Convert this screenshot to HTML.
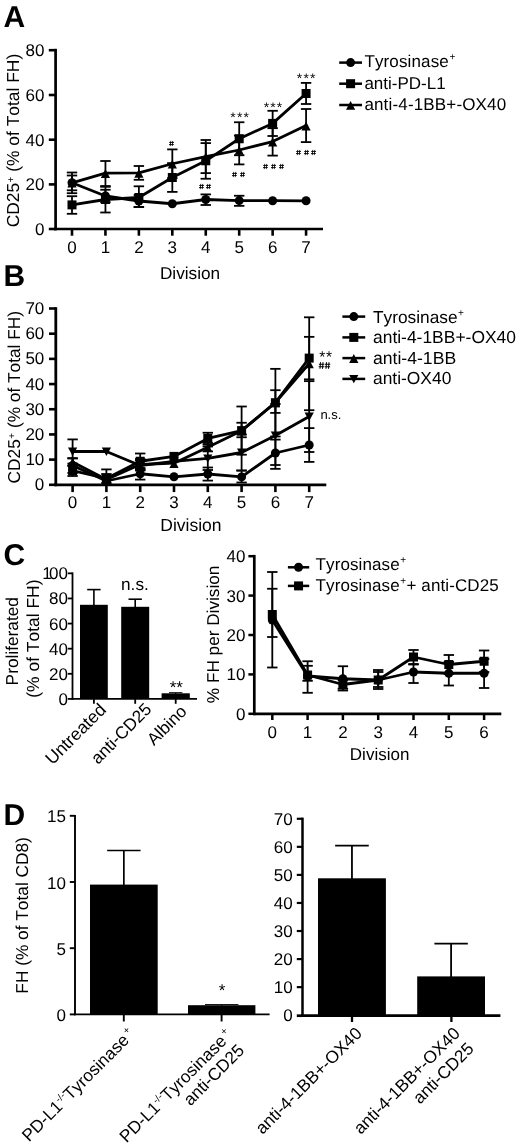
<!DOCTYPE html>
<html lang="en">
<head>
<meta charset="utf-8">
<title>Figure</title>
<style>
html,body{margin:0;padding:0;background:#fff;}
body{width:520px;height:1147px;overflow:hidden;font-family:"Liberation Sans",sans-serif;}
svg{display:block;font-family:"Liberation Sans",sans-serif;font-kerning:none;font-variant-ligatures:none;}
</style>
</head>
<body>
<svg width="520" height="1147" viewBox="0 0 520 1147" fill="#000000" stroke="#000000" text-rendering="geometricPrecision">
<rect x="0" y="0" width="520" height="1147" fill="#ffffff" stroke="none"/>
<defs><filter id="soft" filterUnits="userSpaceOnUse" x="0" y="0" width="520" height="1147" color-interpolation-filters="sRGB"><feGaussianBlur stdDeviation="0.42"/></filter><filter id="soft2" filterUnits="userSpaceOnUse" x="0" y="0" width="520" height="1147" color-interpolation-filters="sRGB"><feGaussianBlur stdDeviation="0.2"/></filter></defs>
<g stroke="none" filter="url(#soft)">
<text x="3.60" y="27.20" font-size="30" text-anchor="start" font-weight="bold">A</text>
<line stroke="#000000" x1="55.60" y1="48.80" x2="55.60" y2="230.35" stroke-width="2.7" stroke-linecap="butt"/>
<line stroke="#000000" x1="54.25" y1="229.00" x2="323.00" y2="229.00" stroke-width="2.7" stroke-linecap="butt"/>
<line stroke="#000000" x1="48.80" y1="50.20" x2="55.60" y2="50.20" stroke-width="2.6" stroke-linecap="butt"/>
<text x="44.40" y="56.20" font-size="17" text-anchor="end" >80</text>
<line stroke="#000000" x1="48.80" y1="95.00" x2="55.60" y2="95.00" stroke-width="2.6" stroke-linecap="butt"/>
<text x="44.40" y="101.00" font-size="17" text-anchor="end" >60</text>
<line stroke="#000000" x1="48.80" y1="139.70" x2="55.60" y2="139.70" stroke-width="2.6" stroke-linecap="butt"/>
<text x="44.40" y="145.70" font-size="17" text-anchor="end" >40</text>
<line stroke="#000000" x1="48.80" y1="184.40" x2="55.60" y2="184.40" stroke-width="2.6" stroke-linecap="butt"/>
<text x="44.40" y="190.40" font-size="17" text-anchor="end" >20</text>
<line stroke="#000000" x1="48.80" y1="229.00" x2="55.60" y2="229.00" stroke-width="2.6" stroke-linecap="butt"/>
<text x="44.40" y="235.00" font-size="17" text-anchor="end" >0</text>
<line stroke="#000000" x1="72.00" y1="229.00" x2="72.00" y2="235.70" stroke-width="2.6" stroke-linecap="butt"/>
<text x="72.00" y="253.00" font-size="17" text-anchor="middle" >0</text>
<line stroke="#000000" x1="105.44" y1="229.00" x2="105.44" y2="235.70" stroke-width="2.6" stroke-linecap="butt"/>
<text x="105.44" y="253.00" font-size="17" text-anchor="middle" >1</text>
<line stroke="#000000" x1="138.88" y1="229.00" x2="138.88" y2="235.70" stroke-width="2.6" stroke-linecap="butt"/>
<text x="138.88" y="253.00" font-size="17" text-anchor="middle" >2</text>
<line stroke="#000000" x1="172.32" y1="229.00" x2="172.32" y2="235.70" stroke-width="2.6" stroke-linecap="butt"/>
<text x="172.32" y="253.00" font-size="17" text-anchor="middle" >3</text>
<line stroke="#000000" x1="205.76" y1="229.00" x2="205.76" y2="235.70" stroke-width="2.6" stroke-linecap="butt"/>
<text x="205.76" y="253.00" font-size="17" text-anchor="middle" >4</text>
<line stroke="#000000" x1="239.20" y1="229.00" x2="239.20" y2="235.70" stroke-width="2.6" stroke-linecap="butt"/>
<text x="239.20" y="253.00" font-size="17" text-anchor="middle" >5</text>
<line stroke="#000000" x1="272.64" y1="229.00" x2="272.64" y2="235.70" stroke-width="2.6" stroke-linecap="butt"/>
<text x="272.64" y="253.00" font-size="17" text-anchor="middle" >6</text>
<line stroke="#000000" x1="306.08" y1="229.00" x2="306.08" y2="235.70" stroke-width="2.6" stroke-linecap="butt"/>
<text x="306.08" y="253.00" font-size="17" text-anchor="middle" >7</text>
<text x="190.00" y="279.30" font-size="17.2" text-anchor="middle" >Division</text>
<text transform="translate(19.40,140.60) rotate(-90)" font-size="17.4" text-anchor="middle" >CD25<tspan font-size="10" dy="-5" dx="0.5">+</tspan><tspan dy="5" dx="0"> (% of Total FH)</tspan></text>
<line stroke="#000000" x1="72.00" y1="175.50" x2="72.00" y2="190.30" stroke-width="1.8" stroke-linecap="butt"/>
<line stroke="#000000" x1="66.80" y1="175.50" x2="77.20" y2="175.50" stroke-width="1.8" stroke-linecap="butt"/>
<line stroke="#000000" x1="66.80" y1="190.30" x2="77.20" y2="190.30" stroke-width="1.8" stroke-linecap="butt"/>
<line stroke="#000000" x1="105.44" y1="189.75" x2="105.44" y2="202.25" stroke-width="1.8" stroke-linecap="butt"/>
<line stroke="#000000" x1="100.24" y1="189.75" x2="110.64" y2="189.75" stroke-width="1.8" stroke-linecap="butt"/>
<line stroke="#000000" x1="100.24" y1="202.25" x2="110.64" y2="202.25" stroke-width="1.8" stroke-linecap="butt"/>
<line stroke="#000000" x1="138.88" y1="195.10" x2="138.88" y2="206.90" stroke-width="1.8" stroke-linecap="butt"/>
<line stroke="#000000" x1="133.68" y1="195.10" x2="144.08" y2="195.10" stroke-width="1.8" stroke-linecap="butt"/>
<line stroke="#000000" x1="133.68" y1="206.90" x2="144.08" y2="206.90" stroke-width="1.8" stroke-linecap="butt"/>
<line stroke="#000000" x1="205.76" y1="194.40" x2="205.76" y2="205.00" stroke-width="1.8" stroke-linecap="butt"/>
<line stroke="#000000" x1="200.56" y1="194.40" x2="210.96" y2="194.40" stroke-width="1.8" stroke-linecap="butt"/>
<line stroke="#000000" x1="200.56" y1="205.00" x2="210.96" y2="205.00" stroke-width="1.8" stroke-linecap="butt"/>
<line stroke="#000000" x1="239.20" y1="195.75" x2="239.20" y2="205.85" stroke-width="1.8" stroke-linecap="butt"/>
<line stroke="#000000" x1="234.00" y1="195.75" x2="244.40" y2="195.75" stroke-width="1.8" stroke-linecap="butt"/>
<line stroke="#000000" x1="234.00" y1="205.85" x2="244.40" y2="205.85" stroke-width="1.8" stroke-linecap="butt"/>
<polyline stroke="#000000" points="72.00,182.80 105.44,196.00 138.88,201.00 172.32,203.75 205.76,199.50 239.20,200.60 272.64,200.70 306.08,200.80" fill="none" stroke-width="2.8" stroke-linejoin="round"/>
<circle cx="72.00" cy="182.80" r="4.5"/>
<circle cx="105.44" cy="196.00" r="4.5"/>
<circle cx="138.88" cy="201.00" r="4.5"/>
<circle cx="172.32" cy="203.75" r="4.5"/>
<circle cx="205.76" cy="199.50" r="4.5"/>
<circle cx="239.20" cy="200.60" r="4.5"/>
<circle cx="272.64" cy="200.70" r="4.5"/>
<circle cx="306.08" cy="200.80" r="4.5"/>
<line stroke="#000000" x1="72.00" y1="172.50" x2="72.00" y2="193.20" stroke-width="1.8" stroke-linecap="butt"/>
<line stroke="#000000" x1="66.80" y1="172.50" x2="77.20" y2="172.50" stroke-width="1.8" stroke-linecap="butt"/>
<line stroke="#000000" x1="66.80" y1="193.20" x2="77.20" y2="193.20" stroke-width="1.8" stroke-linecap="butt"/>
<line stroke="#000000" x1="105.44" y1="161.00" x2="105.44" y2="186.00" stroke-width="1.8" stroke-linecap="butt"/>
<line stroke="#000000" x1="100.24" y1="161.00" x2="110.64" y2="161.00" stroke-width="1.8" stroke-linecap="butt"/>
<line stroke="#000000" x1="100.24" y1="186.00" x2="110.64" y2="186.00" stroke-width="1.8" stroke-linecap="butt"/>
<line stroke="#000000" x1="138.88" y1="166.00" x2="138.88" y2="179.80" stroke-width="1.8" stroke-linecap="butt"/>
<line stroke="#000000" x1="133.68" y1="166.00" x2="144.08" y2="166.00" stroke-width="1.8" stroke-linecap="butt"/>
<line stroke="#000000" x1="133.68" y1="179.80" x2="144.08" y2="179.80" stroke-width="1.8" stroke-linecap="butt"/>
<line stroke="#000000" x1="172.32" y1="149.40" x2="172.32" y2="178.10" stroke-width="1.8" stroke-linecap="butt"/>
<line stroke="#000000" x1="167.12" y1="149.40" x2="177.52" y2="149.40" stroke-width="1.8" stroke-linecap="butt"/>
<line stroke="#000000" x1="167.12" y1="178.10" x2="177.52" y2="178.10" stroke-width="1.8" stroke-linecap="butt"/>
<line stroke="#000000" x1="205.76" y1="140.00" x2="205.76" y2="173.10" stroke-width="1.8" stroke-linecap="butt"/>
<line stroke="#000000" x1="200.56" y1="140.00" x2="210.96" y2="140.00" stroke-width="1.8" stroke-linecap="butt"/>
<line stroke="#000000" x1="200.56" y1="173.10" x2="210.96" y2="173.10" stroke-width="1.8" stroke-linecap="butt"/>
<line stroke="#000000" x1="239.20" y1="135.60" x2="239.20" y2="164.40" stroke-width="1.8" stroke-linecap="butt"/>
<line stroke="#000000" x1="234.00" y1="135.60" x2="244.40" y2="135.60" stroke-width="1.8" stroke-linecap="butt"/>
<line stroke="#000000" x1="234.00" y1="164.40" x2="244.40" y2="164.40" stroke-width="1.8" stroke-linecap="butt"/>
<line stroke="#000000" x1="272.64" y1="128.20" x2="272.64" y2="155.60" stroke-width="1.8" stroke-linecap="butt"/>
<line stroke="#000000" x1="267.44" y1="128.20" x2="277.84" y2="128.20" stroke-width="1.8" stroke-linecap="butt"/>
<line stroke="#000000" x1="267.44" y1="155.60" x2="277.84" y2="155.60" stroke-width="1.8" stroke-linecap="butt"/>
<line stroke="#000000" x1="306.08" y1="109.00" x2="306.08" y2="142.10" stroke-width="1.8" stroke-linecap="butt"/>
<line stroke="#000000" x1="300.88" y1="109.00" x2="311.28" y2="109.00" stroke-width="1.8" stroke-linecap="butt"/>
<line stroke="#000000" x1="300.88" y1="142.10" x2="311.28" y2="142.10" stroke-width="1.8" stroke-linecap="butt"/>
<polyline stroke="#000000" points="72.00,182.80 105.44,173.10 138.88,172.90 172.32,163.75 205.76,156.60 239.20,150.00 272.64,141.60 306.08,125.60" fill="none" stroke-width="2.8" stroke-linejoin="round"/>
<path d="M67.40 187.60L76.60 187.60L72.00 178.80Z"/>
<path d="M100.84 177.90L110.04 177.90L105.44 169.10Z"/>
<path d="M134.28 177.70L143.48 177.70L138.88 168.90Z"/>
<path d="M167.72 168.55L176.92 168.55L172.32 159.75Z"/>
<path d="M201.16 161.40L210.36 161.40L205.76 152.60Z"/>
<path d="M234.60 154.80L243.80 154.80L239.20 146.00Z"/>
<path d="M268.04 146.40L277.24 146.40L272.64 137.60Z"/>
<path d="M301.48 130.40L310.68 130.40L306.08 121.60Z"/>
<line stroke="#000000" x1="72.00" y1="196.20" x2="72.00" y2="213.80" stroke-width="1.8" stroke-linecap="butt"/>
<line stroke="#000000" x1="66.80" y1="196.20" x2="77.20" y2="196.20" stroke-width="1.8" stroke-linecap="butt"/>
<line stroke="#000000" x1="66.80" y1="213.80" x2="77.20" y2="213.80" stroke-width="1.8" stroke-linecap="butt"/>
<line stroke="#000000" x1="105.44" y1="186.80" x2="105.44" y2="212.50" stroke-width="1.8" stroke-linecap="butt"/>
<line stroke="#000000" x1="100.24" y1="186.80" x2="110.64" y2="186.80" stroke-width="1.8" stroke-linecap="butt"/>
<line stroke="#000000" x1="100.24" y1="212.50" x2="110.64" y2="212.50" stroke-width="1.8" stroke-linecap="butt"/>
<line stroke="#000000" x1="138.88" y1="186.30" x2="138.88" y2="207.10" stroke-width="1.8" stroke-linecap="butt"/>
<line stroke="#000000" x1="133.68" y1="186.30" x2="144.08" y2="186.30" stroke-width="1.8" stroke-linecap="butt"/>
<line stroke="#000000" x1="133.68" y1="207.10" x2="144.08" y2="207.10" stroke-width="1.8" stroke-linecap="butt"/>
<line stroke="#000000" x1="172.32" y1="163.10" x2="172.32" y2="191.90" stroke-width="1.8" stroke-linecap="butt"/>
<line stroke="#000000" x1="167.12" y1="163.10" x2="177.52" y2="163.10" stroke-width="1.8" stroke-linecap="butt"/>
<line stroke="#000000" x1="167.12" y1="191.90" x2="177.52" y2="191.90" stroke-width="1.8" stroke-linecap="butt"/>
<line stroke="#000000" x1="205.76" y1="143.10" x2="205.76" y2="178.75" stroke-width="1.8" stroke-linecap="butt"/>
<line stroke="#000000" x1="200.56" y1="143.10" x2="210.96" y2="143.10" stroke-width="1.8" stroke-linecap="butt"/>
<line stroke="#000000" x1="200.56" y1="178.75" x2="210.96" y2="178.75" stroke-width="1.8" stroke-linecap="butt"/>
<line stroke="#000000" x1="239.20" y1="122.25" x2="239.20" y2="155.25" stroke-width="1.8" stroke-linecap="butt"/>
<line stroke="#000000" x1="234.00" y1="122.25" x2="244.40" y2="122.25" stroke-width="1.8" stroke-linecap="butt"/>
<line stroke="#000000" x1="234.00" y1="155.25" x2="244.40" y2="155.25" stroke-width="1.8" stroke-linecap="butt"/>
<line stroke="#000000" x1="272.64" y1="110.80" x2="272.64" y2="136.00" stroke-width="1.8" stroke-linecap="butt"/>
<line stroke="#000000" x1="267.44" y1="110.80" x2="277.84" y2="110.80" stroke-width="1.8" stroke-linecap="butt"/>
<line stroke="#000000" x1="267.44" y1="136.00" x2="277.84" y2="136.00" stroke-width="1.8" stroke-linecap="butt"/>
<line stroke="#000000" x1="306.08" y1="82.90" x2="306.08" y2="104.00" stroke-width="1.8" stroke-linecap="butt"/>
<line stroke="#000000" x1="300.88" y1="82.90" x2="311.28" y2="82.90" stroke-width="1.8" stroke-linecap="butt"/>
<line stroke="#000000" x1="300.88" y1="104.00" x2="311.28" y2="104.00" stroke-width="1.8" stroke-linecap="butt"/>
<polyline stroke="#000000" points="72.00,204.90 105.44,199.50 138.88,197.50 172.32,177.50 205.76,160.80 239.20,138.75 272.64,123.40 306.08,93.50" fill="none" stroke-width="2.8" stroke-linejoin="round"/>
<rect x="67.50" y="200.40" width="9.0" height="9.0"/>
<rect x="100.94" y="195.00" width="9.0" height="9.0"/>
<rect x="134.38" y="193.00" width="9.0" height="9.0"/>
<rect x="167.82" y="173.00" width="9.0" height="9.0"/>
<rect x="201.26" y="156.30" width="9.0" height="9.0"/>
<rect x="234.70" y="134.25" width="9.0" height="9.0"/>
<rect x="268.14" y="118.90" width="9.0" height="9.0"/>
<rect x="301.58" y="89.00" width="9.0" height="9.0"/>
<text x="240.27" y="122.17" font-size="14" text-anchor="middle" letter-spacing="1.15">***</text>
<text x="273.57" y="111.58" font-size="14" text-anchor="middle" letter-spacing="1.15">***</text>
<text x="306.68" y="83.42" font-size="14" text-anchor="middle" letter-spacing="1.15">***</text>
<line stroke="#000000" x1="339.20" y1="62.60" x2="362.00" y2="62.60" stroke-width="2.5" stroke-linecap="butt"/>
<circle cx="350.60" cy="62.60" r="4.5"/>
<text x="364.40" y="67.30" font-size="17" text-anchor="start" letter-spacing="0.14">Tyrosinase<tspan font-size="10" dy="-7" dx="0.5">+</tspan></text>
<line stroke="#000000" x1="339.20" y1="83.70" x2="362.00" y2="83.70" stroke-width="2.5" stroke-linecap="butt"/>
<rect x="346.10" y="79.20" width="9.0" height="9.0"/>
<text x="364.40" y="88.90" font-size="17" text-anchor="start" >anti-PD-L1</text>
<line stroke="#000000" x1="339.20" y1="105.00" x2="362.00" y2="105.00" stroke-width="2.5" stroke-linecap="butt"/>
<path d="M346.00 109.80L355.20 109.80L350.60 101.00Z"/>
<text x="364.40" y="110.10" font-size="17" text-anchor="start" letter-spacing="0.16">anti-4-1BB+-OX40</text>
<text x="3.40" y="286.30" font-size="30" text-anchor="start" font-weight="bold">B</text>
<line stroke="#000000" x1="55.80" y1="307.20" x2="55.80" y2="486.20" stroke-width="2.8" stroke-linecap="butt"/>
<line stroke="#000000" x1="54.40" y1="484.80" x2="326.30" y2="484.80" stroke-width="2.8" stroke-linecap="butt"/>
<line stroke="#000000" x1="49.00" y1="484.80" x2="55.80" y2="484.80" stroke-width="2.6" stroke-linecap="butt"/>
<text x="44.30" y="490.40" font-size="17" text-anchor="end" >0</text>
<line stroke="#000000" x1="49.00" y1="459.61" x2="55.80" y2="459.61" stroke-width="2.6" stroke-linecap="butt"/>
<text x="44.30" y="465.21" font-size="17" text-anchor="end" >10</text>
<line stroke="#000000" x1="49.00" y1="434.43" x2="55.80" y2="434.43" stroke-width="2.6" stroke-linecap="butt"/>
<text x="44.30" y="440.03" font-size="17" text-anchor="end" >20</text>
<line stroke="#000000" x1="49.00" y1="409.24" x2="55.80" y2="409.24" stroke-width="2.6" stroke-linecap="butt"/>
<text x="44.30" y="414.84" font-size="17" text-anchor="end" >30</text>
<line stroke="#000000" x1="49.00" y1="384.06" x2="55.80" y2="384.06" stroke-width="2.6" stroke-linecap="butt"/>
<text x="44.30" y="389.66" font-size="17" text-anchor="end" >40</text>
<line stroke="#000000" x1="49.00" y1="358.87" x2="55.80" y2="358.87" stroke-width="2.6" stroke-linecap="butt"/>
<text x="44.30" y="364.47" font-size="17" text-anchor="end" >50</text>
<line stroke="#000000" x1="49.00" y1="333.68" x2="55.80" y2="333.68" stroke-width="2.6" stroke-linecap="butt"/>
<text x="44.30" y="339.28" font-size="17" text-anchor="end" >60</text>
<line stroke="#000000" x1="49.00" y1="308.50" x2="55.80" y2="308.50" stroke-width="2.6" stroke-linecap="butt"/>
<text x="44.30" y="314.10" font-size="17" text-anchor="end" >70</text>
<line stroke="#000000" x1="72.60" y1="484.80" x2="72.60" y2="492.10" stroke-width="2.6" stroke-linecap="butt"/>
<text x="72.60" y="508.10" font-size="17" text-anchor="middle" >0</text>
<line stroke="#000000" x1="106.40" y1="484.80" x2="106.40" y2="492.10" stroke-width="2.6" stroke-linecap="butt"/>
<text x="106.40" y="508.10" font-size="17" text-anchor="middle" >1</text>
<line stroke="#000000" x1="140.20" y1="484.80" x2="140.20" y2="492.10" stroke-width="2.6" stroke-linecap="butt"/>
<text x="140.20" y="508.10" font-size="17" text-anchor="middle" >2</text>
<line stroke="#000000" x1="174.00" y1="484.80" x2="174.00" y2="492.10" stroke-width="2.6" stroke-linecap="butt"/>
<text x="174.00" y="508.10" font-size="17" text-anchor="middle" >3</text>
<line stroke="#000000" x1="207.80" y1="484.80" x2="207.80" y2="492.10" stroke-width="2.6" stroke-linecap="butt"/>
<text x="207.80" y="508.10" font-size="17" text-anchor="middle" >4</text>
<line stroke="#000000" x1="241.60" y1="484.80" x2="241.60" y2="492.10" stroke-width="2.6" stroke-linecap="butt"/>
<text x="241.60" y="508.10" font-size="17" text-anchor="middle" >5</text>
<line stroke="#000000" x1="275.40" y1="484.80" x2="275.40" y2="492.10" stroke-width="2.6" stroke-linecap="butt"/>
<text x="275.40" y="508.10" font-size="17" text-anchor="middle" >6</text>
<line stroke="#000000" x1="309.20" y1="484.80" x2="309.20" y2="492.10" stroke-width="2.6" stroke-linecap="butt"/>
<text x="309.20" y="508.10" font-size="17" text-anchor="middle" >7</text>
<text x="190.90" y="530.80" font-size="17.5" text-anchor="middle" >Division</text>
<text transform="translate(19.50,397.20) rotate(-90)" font-size="17.3" text-anchor="middle" >CD25<tspan font-size="10" dy="-5" dx="0.5">+</tspan><tspan dy="5" dx="0"> (% of Total FH)</tspan></text>
<line stroke="#000000" x1="72.60" y1="458.10" x2="72.60" y2="472.90" stroke-width="1.8" stroke-linecap="butt"/>
<line stroke="#000000" x1="67.40" y1="458.10" x2="77.80" y2="458.10" stroke-width="1.8" stroke-linecap="butt"/>
<line stroke="#000000" x1="67.40" y1="472.90" x2="77.80" y2="472.90" stroke-width="1.8" stroke-linecap="butt"/>
<line stroke="#000000" x1="106.40" y1="477.00" x2="106.40" y2="485.00" stroke-width="1.8" stroke-linecap="butt"/>
<line stroke="#000000" x1="101.20" y1="477.00" x2="111.60" y2="477.00" stroke-width="1.8" stroke-linecap="butt"/>
<line stroke="#000000" x1="101.20" y1="485.00" x2="111.60" y2="485.00" stroke-width="1.8" stroke-linecap="butt"/>
<line stroke="#000000" x1="140.20" y1="468.00" x2="140.20" y2="479.60" stroke-width="1.8" stroke-linecap="butt"/>
<line stroke="#000000" x1="135.00" y1="468.00" x2="145.40" y2="468.00" stroke-width="1.8" stroke-linecap="butt"/>
<line stroke="#000000" x1="135.00" y1="479.60" x2="145.40" y2="479.60" stroke-width="1.8" stroke-linecap="butt"/>
<line stroke="#000000" x1="207.80" y1="467.50" x2="207.80" y2="480.60" stroke-width="1.8" stroke-linecap="butt"/>
<line stroke="#000000" x1="202.60" y1="467.50" x2="213.00" y2="467.50" stroke-width="1.8" stroke-linecap="butt"/>
<line stroke="#000000" x1="202.60" y1="480.60" x2="213.00" y2="480.60" stroke-width="1.8" stroke-linecap="butt"/>
<line stroke="#000000" x1="241.60" y1="470.60" x2="241.60" y2="482.50" stroke-width="1.8" stroke-linecap="butt"/>
<line stroke="#000000" x1="236.40" y1="470.60" x2="246.80" y2="470.60" stroke-width="1.8" stroke-linecap="butt"/>
<line stroke="#000000" x1="236.40" y1="482.50" x2="246.80" y2="482.50" stroke-width="1.8" stroke-linecap="butt"/>
<line stroke="#000000" x1="275.40" y1="439.60" x2="275.40" y2="465.00" stroke-width="1.8" stroke-linecap="butt"/>
<line stroke="#000000" x1="270.20" y1="439.60" x2="280.60" y2="439.60" stroke-width="1.8" stroke-linecap="butt"/>
<line stroke="#000000" x1="270.20" y1="465.00" x2="280.60" y2="465.00" stroke-width="1.8" stroke-linecap="butt"/>
<line stroke="#000000" x1="309.20" y1="428.10" x2="309.20" y2="461.90" stroke-width="1.8" stroke-linecap="butt"/>
<line stroke="#000000" x1="304.00" y1="428.10" x2="314.40" y2="428.10" stroke-width="1.8" stroke-linecap="butt"/>
<line stroke="#000000" x1="304.00" y1="461.90" x2="314.40" y2="461.90" stroke-width="1.8" stroke-linecap="butt"/>
<polyline stroke="#000000" points="72.60,465.50 106.40,481.00 140.20,473.75 174.00,476.80 207.80,474.00 241.60,476.90 275.40,453.00 309.20,445.00" fill="none" stroke-width="2.8" stroke-linejoin="round"/>
<circle cx="72.60" cy="465.50" r="4.5"/>
<circle cx="106.40" cy="481.00" r="4.5"/>
<circle cx="140.20" cy="473.75" r="4.5"/>
<circle cx="174.00" cy="476.80" r="4.5"/>
<circle cx="207.80" cy="474.00" r="4.5"/>
<circle cx="241.60" cy="476.90" r="4.5"/>
<circle cx="275.40" cy="453.00" r="4.5"/>
<circle cx="309.20" cy="445.00" r="4.5"/>
<line stroke="#000000" x1="72.60" y1="439.40" x2="72.60" y2="463.60" stroke-width="1.8" stroke-linecap="butt"/>
<line stroke="#000000" x1="67.40" y1="439.40" x2="77.80" y2="439.40" stroke-width="1.8" stroke-linecap="butt"/>
<line stroke="#000000" x1="67.40" y1="463.60" x2="77.80" y2="463.60" stroke-width="1.8" stroke-linecap="butt"/>
<line stroke="#000000" x1="140.20" y1="460.50" x2="140.20" y2="470.50" stroke-width="1.8" stroke-linecap="butt"/>
<line stroke="#000000" x1="135.00" y1="460.50" x2="145.40" y2="460.50" stroke-width="1.8" stroke-linecap="butt"/>
<line stroke="#000000" x1="135.00" y1="470.50" x2="145.40" y2="470.50" stroke-width="1.8" stroke-linecap="butt"/>
<line stroke="#000000" x1="207.80" y1="446.50" x2="207.80" y2="470.00" stroke-width="1.8" stroke-linecap="butt"/>
<line stroke="#000000" x1="202.60" y1="446.50" x2="213.00" y2="446.50" stroke-width="1.8" stroke-linecap="butt"/>
<line stroke="#000000" x1="202.60" y1="470.00" x2="213.00" y2="470.00" stroke-width="1.8" stroke-linecap="butt"/>
<line stroke="#000000" x1="241.60" y1="434.50" x2="241.60" y2="470.50" stroke-width="1.8" stroke-linecap="butt"/>
<line stroke="#000000" x1="236.40" y1="434.50" x2="246.80" y2="434.50" stroke-width="1.8" stroke-linecap="butt"/>
<line stroke="#000000" x1="236.40" y1="470.50" x2="246.80" y2="470.50" stroke-width="1.8" stroke-linecap="butt"/>
<line stroke="#000000" x1="275.40" y1="404.00" x2="275.40" y2="468.85" stroke-width="1.8" stroke-linecap="butt"/>
<line stroke="#000000" x1="270.20" y1="404.00" x2="280.60" y2="404.00" stroke-width="1.8" stroke-linecap="butt"/>
<line stroke="#000000" x1="270.20" y1="468.85" x2="280.60" y2="468.85" stroke-width="1.8" stroke-linecap="butt"/>
<line stroke="#000000" x1="309.20" y1="381.15" x2="309.20" y2="452.00" stroke-width="1.8" stroke-linecap="butt"/>
<line stroke="#000000" x1="304.00" y1="381.15" x2="314.40" y2="381.15" stroke-width="1.8" stroke-linecap="butt"/>
<line stroke="#000000" x1="304.00" y1="452.00" x2="314.40" y2="452.00" stroke-width="1.8" stroke-linecap="butt"/>
<polyline stroke="#000000" points="72.60,451.50 106.40,451.50 140.20,465.50 174.00,461.30 207.80,458.40 241.60,452.50 275.40,435.50 309.20,416.50" fill="none" stroke-width="2.8" stroke-linejoin="round"/>
<path d="M68.00 447.50L77.20 447.50L72.60 455.90Z"/>
<path d="M101.80 447.50L111.00 447.50L106.40 455.90Z"/>
<path d="M135.60 461.50L144.80 461.50L140.20 469.90Z"/>
<path d="M169.40 457.30L178.60 457.30L174.00 465.70Z"/>
<path d="M203.20 454.40L212.40 454.40L207.80 462.80Z"/>
<path d="M237.00 448.50L246.20 448.50L241.60 456.90Z"/>
<path d="M270.80 431.50L280.00 431.50L275.40 439.90Z"/>
<path d="M304.60 412.50L313.80 412.50L309.20 420.90Z"/>
<line stroke="#000000" x1="72.60" y1="458.50" x2="72.60" y2="465.50" stroke-width="1.8" stroke-linecap="butt"/>
<line stroke="#000000" x1="67.40" y1="458.50" x2="77.80" y2="458.50" stroke-width="1.8" stroke-linecap="butt"/>
<line stroke="#000000" x1="67.40" y1="465.50" x2="77.80" y2="465.50" stroke-width="1.8" stroke-linecap="butt"/>
<line stroke="#000000" x1="106.40" y1="469.40" x2="106.40" y2="485.00" stroke-width="1.8" stroke-linecap="butt"/>
<line stroke="#000000" x1="101.20" y1="469.40" x2="111.60" y2="469.40" stroke-width="1.8" stroke-linecap="butt"/>
<line stroke="#000000" x1="101.20" y1="485.00" x2="111.60" y2="485.00" stroke-width="1.8" stroke-linecap="butt"/>
<line stroke="#000000" x1="140.20" y1="459.00" x2="140.20" y2="470.00" stroke-width="1.8" stroke-linecap="butt"/>
<line stroke="#000000" x1="135.00" y1="459.00" x2="145.40" y2="459.00" stroke-width="1.8" stroke-linecap="butt"/>
<line stroke="#000000" x1="135.00" y1="470.00" x2="145.40" y2="470.00" stroke-width="1.8" stroke-linecap="butt"/>
<line stroke="#000000" x1="207.80" y1="443.00" x2="207.80" y2="451.40" stroke-width="1.8" stroke-linecap="butt"/>
<line stroke="#000000" x1="202.60" y1="443.00" x2="213.00" y2="443.00" stroke-width="1.8" stroke-linecap="butt"/>
<line stroke="#000000" x1="202.60" y1="451.40" x2="213.00" y2="451.40" stroke-width="1.8" stroke-linecap="butt"/>
<line stroke="#000000" x1="241.60" y1="422.75" x2="241.60" y2="437.25" stroke-width="1.8" stroke-linecap="butt"/>
<line stroke="#000000" x1="236.40" y1="422.75" x2="246.80" y2="422.75" stroke-width="1.8" stroke-linecap="butt"/>
<line stroke="#000000" x1="236.40" y1="437.25" x2="246.80" y2="437.25" stroke-width="1.8" stroke-linecap="butt"/>
<line stroke="#000000" x1="275.40" y1="390.20" x2="275.40" y2="412.90" stroke-width="1.8" stroke-linecap="butt"/>
<line stroke="#000000" x1="270.20" y1="390.20" x2="280.60" y2="390.20" stroke-width="1.8" stroke-linecap="butt"/>
<line stroke="#000000" x1="270.20" y1="412.90" x2="280.60" y2="412.90" stroke-width="1.8" stroke-linecap="butt"/>
<line stroke="#000000" x1="309.20" y1="317.30" x2="309.20" y2="410.20" stroke-width="1.8" stroke-linecap="butt"/>
<line stroke="#000000" x1="304.00" y1="317.30" x2="314.40" y2="317.30" stroke-width="1.8" stroke-linecap="butt"/>
<line stroke="#000000" x1="304.00" y1="410.20" x2="314.40" y2="410.20" stroke-width="1.8" stroke-linecap="butt"/>
<polyline stroke="#000000" points="72.60,462.00 106.40,479.50 140.20,464.50 174.00,463.20 207.80,447.20 241.60,430.80 275.40,402.50 309.20,363.50" fill="none" stroke-width="2.8" stroke-linejoin="round"/>
<path d="M68.00 466.80L77.20 466.80L72.60 458.00Z"/>
<path d="M101.80 484.30L111.00 484.30L106.40 475.50Z"/>
<path d="M135.60 469.30L144.80 469.30L140.20 460.50Z"/>
<path d="M169.40 468.00L178.60 468.00L174.00 459.20Z"/>
<path d="M203.20 452.00L212.40 452.00L207.80 443.20Z"/>
<path d="M237.00 435.60L246.20 435.60L241.60 426.80Z"/>
<path d="M270.80 407.30L280.00 407.30L275.40 398.50Z"/>
<path d="M304.60 368.30L313.80 368.30L309.20 359.50Z"/>
<line stroke="#000000" x1="72.60" y1="466.00" x2="72.60" y2="476.00" stroke-width="1.8" stroke-linecap="butt"/>
<line stroke="#000000" x1="67.40" y1="466.00" x2="77.80" y2="466.00" stroke-width="1.8" stroke-linecap="butt"/>
<line stroke="#000000" x1="67.40" y1="476.00" x2="77.80" y2="476.00" stroke-width="1.8" stroke-linecap="butt"/>
<line stroke="#000000" x1="106.40" y1="474.00" x2="106.40" y2="483.00" stroke-width="1.8" stroke-linecap="butt"/>
<line stroke="#000000" x1="101.20" y1="474.00" x2="111.60" y2="474.00" stroke-width="1.8" stroke-linecap="butt"/>
<line stroke="#000000" x1="101.20" y1="483.00" x2="111.60" y2="483.00" stroke-width="1.8" stroke-linecap="butt"/>
<line stroke="#000000" x1="140.20" y1="453.50" x2="140.20" y2="469.00" stroke-width="1.8" stroke-linecap="butt"/>
<line stroke="#000000" x1="135.00" y1="453.50" x2="145.40" y2="453.50" stroke-width="1.8" stroke-linecap="butt"/>
<line stroke="#000000" x1="135.00" y1="469.00" x2="145.40" y2="469.00" stroke-width="1.8" stroke-linecap="butt"/>
<line stroke="#000000" x1="207.80" y1="432.75" x2="207.80" y2="444.60" stroke-width="1.8" stroke-linecap="butt"/>
<line stroke="#000000" x1="202.60" y1="432.75" x2="213.00" y2="432.75" stroke-width="1.8" stroke-linecap="butt"/>
<line stroke="#000000" x1="202.60" y1="444.60" x2="213.00" y2="444.60" stroke-width="1.8" stroke-linecap="butt"/>
<line stroke="#000000" x1="241.60" y1="406.50" x2="241.60" y2="454.70" stroke-width="1.8" stroke-linecap="butt"/>
<line stroke="#000000" x1="236.40" y1="406.50" x2="246.80" y2="406.50" stroke-width="1.8" stroke-linecap="butt"/>
<line stroke="#000000" x1="236.40" y1="454.70" x2="246.80" y2="454.70" stroke-width="1.8" stroke-linecap="butt"/>
<line stroke="#000000" x1="275.40" y1="368.85" x2="275.40" y2="436.50" stroke-width="1.8" stroke-linecap="butt"/>
<line stroke="#000000" x1="270.20" y1="368.85" x2="280.60" y2="368.85" stroke-width="1.8" stroke-linecap="butt"/>
<line stroke="#000000" x1="270.20" y1="436.50" x2="280.60" y2="436.50" stroke-width="1.8" stroke-linecap="butt"/>
<line stroke="#000000" x1="309.20" y1="336.85" x2="309.20" y2="379.35" stroke-width="1.8" stroke-linecap="butt"/>
<line stroke="#000000" x1="304.00" y1="336.85" x2="314.40" y2="336.85" stroke-width="1.8" stroke-linecap="butt"/>
<line stroke="#000000" x1="304.00" y1="379.35" x2="314.40" y2="379.35" stroke-width="1.8" stroke-linecap="butt"/>
<polyline stroke="#000000" points="72.60,470.60 106.40,478.50 140.20,461.25 174.00,456.40 207.80,438.40 241.60,430.60 275.40,402.70 309.20,358.10" fill="none" stroke-width="2.8" stroke-linejoin="round"/>
<rect x="68.10" y="466.10" width="9.0" height="9.0"/>
<rect x="101.90" y="474.00" width="9.0" height="9.0"/>
<rect x="135.70" y="456.75" width="9.0" height="9.0"/>
<rect x="169.50" y="451.90" width="9.0" height="9.0"/>
<rect x="203.30" y="433.90" width="9.0" height="9.0"/>
<rect x="237.10" y="426.10" width="9.0" height="9.0"/>
<rect x="270.90" y="398.20" width="9.0" height="9.0"/>
<rect x="304.70" y="353.60" width="9.0" height="9.0"/>
<text x="325.90" y="361.84" font-size="15.5" text-anchor="middle" letter-spacing="0.6">**</text>
<text x="320.40" y="418.90" font-size="13" text-anchor="start" >n.s.</text>
<line stroke="#000000" x1="342.40" y1="316.60" x2="365.20" y2="316.60" stroke-width="2.5" stroke-linecap="butt"/>
<circle cx="353.80" cy="316.60" r="4.5"/>
<text x="373.00" y="323.30" font-size="17.3" text-anchor="start" >Tyrosinase<tspan font-size="10" dy="-7" dx="0.5">+</tspan></text>
<line stroke="#000000" x1="342.40" y1="337.40" x2="365.20" y2="337.40" stroke-width="2.5" stroke-linecap="butt"/>
<rect x="349.30" y="332.90" width="9.0" height="9.0"/>
<text x="373.00" y="343.30" font-size="17.45" text-anchor="start" >anti-4-1BB+-OX40</text>
<line stroke="#000000" x1="342.40" y1="358.10" x2="365.20" y2="358.10" stroke-width="2.5" stroke-linecap="butt"/>
<path d="M349.20 362.90L358.40 362.90L353.80 354.10Z"/>
<text x="373.00" y="363.50" font-size="17.6" text-anchor="start" >anti-4-1BB</text>
<line stroke="#000000" x1="342.40" y1="378.90" x2="365.20" y2="378.90" stroke-width="2.5" stroke-linecap="butt"/>
<path d="M349.20 374.90L358.40 374.90L353.80 383.30Z"/>
<text x="373.00" y="383.50" font-size="17.4" text-anchor="start" >anti-OX40</text>
<text x="3.60" y="564.80" font-size="30" text-anchor="start" font-weight="bold">C</text>
<line stroke="#000000" x1="72.50" y1="572.40" x2="72.50" y2="699.80" stroke-width="1.8" stroke-linecap="butt"/>
<line stroke="#000000" x1="71.60" y1="698.90" x2="197.00" y2="698.90" stroke-width="1.8" stroke-linecap="butt"/>
<line stroke="#000000" x1="67.80" y1="698.90" x2="72.50" y2="698.90" stroke-width="1.8" stroke-linecap="butt"/>
<text x="68.00" y="704.90" font-size="17" text-anchor="end" >0</text>
<line stroke="#000000" x1="67.80" y1="673.79" x2="72.50" y2="673.79" stroke-width="1.8" stroke-linecap="butt"/>
<text x="68.00" y="679.79" font-size="17" text-anchor="end" >20</text>
<line stroke="#000000" x1="67.80" y1="648.68" x2="72.50" y2="648.68" stroke-width="1.8" stroke-linecap="butt"/>
<text x="68.00" y="654.68" font-size="17" text-anchor="end" >40</text>
<line stroke="#000000" x1="67.80" y1="623.57" x2="72.50" y2="623.57" stroke-width="1.8" stroke-linecap="butt"/>
<text x="68.00" y="629.57" font-size="17" text-anchor="end" >60</text>
<line stroke="#000000" x1="67.80" y1="598.46" x2="72.50" y2="598.46" stroke-width="1.8" stroke-linecap="butt"/>
<text x="68.00" y="604.46" font-size="17" text-anchor="end" >80</text>
<line stroke="#000000" x1="67.80" y1="573.35" x2="72.50" y2="573.35" stroke-width="1.8" stroke-linecap="butt"/>
<text x="68.00" y="579.35" font-size="17" text-anchor="end" >1<tspan dx="-2.6">00</tspan></text>
<rect x="80.00" y="604.80" width="27.80" height="94.10"/>
<line stroke="#000000" x1="93.90" y1="589.60" x2="93.90" y2="605.80" stroke-width="1.6" stroke-linecap="butt"/>
<line stroke="#000000" x1="87.20" y1="589.60" x2="100.60" y2="589.60" stroke-width="1.6" stroke-linecap="butt"/>
<rect x="121.20" y="606.80" width="28.00" height="92.10"/>
<line stroke="#000000" x1="135.20" y1="599.20" x2="135.20" y2="607.80" stroke-width="1.6" stroke-linecap="butt"/>
<line stroke="#000000" x1="128.50" y1="599.20" x2="141.90" y2="599.20" stroke-width="1.6" stroke-linecap="butt"/>
<rect x="161.60" y="693.30" width="28.20" height="5.60"/>
<line stroke="#000000" x1="175.70" y1="692.70" x2="175.70" y2="694.30" stroke-width="1.0" stroke-linecap="butt"/>
<line stroke="#000000" x1="169.00" y1="692.70" x2="182.40" y2="692.70" stroke-width="1.0" stroke-linecap="butt"/>
<line stroke="#000000" x1="93.90" y1="698.90" x2="93.90" y2="703.80" stroke-width="1.8" stroke-linecap="butt"/>
<line stroke="#000000" x1="135.20" y1="698.90" x2="135.20" y2="703.80" stroke-width="1.8" stroke-linecap="butt"/>
<line stroke="#000000" x1="175.70" y1="698.90" x2="175.70" y2="703.80" stroke-width="1.8" stroke-linecap="butt"/>
<text x="134.90" y="590.40" font-size="17.2" text-anchor="middle" >n.s.</text>
<text x="176.30" y="693.31" font-size="17" text-anchor="middle" letter-spacing="0">**</text>
<text transform="translate(17.80,641.20) rotate(-90)" font-size="17.3" text-anchor="middle" >Proliferated</text>
<text transform="translate(39.00,638.60) rotate(-90)" font-size="17.45" text-anchor="middle" >(% of Total FH)</text>
<text transform="translate(107.20,710.80) rotate(-45)" font-size="17.65" text-anchor="end" >Untreated</text>
<text transform="translate(152.60,710.20) rotate(-45)" font-size="17.2" text-anchor="end" >anti-CD25</text>
<text transform="translate(187.80,712.50) rotate(-45)" font-size="17.2" text-anchor="end" >Albino</text>
<line stroke="#000000" x1="254.30" y1="554.90" x2="254.30" y2="715.15" stroke-width="2.7" stroke-linecap="butt"/>
<line stroke="#000000" x1="252.95" y1="713.80" x2="501.30" y2="713.80" stroke-width="2.7" stroke-linecap="butt"/>
<line stroke="#000000" x1="248.40" y1="713.80" x2="254.30" y2="713.80" stroke-width="2.5" stroke-linecap="butt"/>
<text x="245.40" y="719.80" font-size="17" text-anchor="end" >0</text>
<line stroke="#000000" x1="248.40" y1="674.40" x2="254.30" y2="674.40" stroke-width="2.5" stroke-linecap="butt"/>
<text x="245.40" y="680.40" font-size="17" text-anchor="end" >10</text>
<line stroke="#000000" x1="248.40" y1="635.00" x2="254.30" y2="635.00" stroke-width="2.5" stroke-linecap="butt"/>
<text x="245.40" y="641.00" font-size="17" text-anchor="end" >20</text>
<line stroke="#000000" x1="248.40" y1="595.60" x2="254.30" y2="595.60" stroke-width="2.5" stroke-linecap="butt"/>
<text x="245.40" y="601.60" font-size="17" text-anchor="end" >30</text>
<line stroke="#000000" x1="248.40" y1="556.20" x2="254.30" y2="556.20" stroke-width="2.5" stroke-linecap="butt"/>
<text x="245.40" y="562.20" font-size="17" text-anchor="end" >40</text>
<line stroke="#000000" x1="272.30" y1="713.80" x2="272.30" y2="720.00" stroke-width="2.5" stroke-linecap="butt"/>
<text x="272.30" y="738.20" font-size="17" text-anchor="middle" >0</text>
<line stroke="#000000" x1="307.60" y1="713.80" x2="307.60" y2="720.00" stroke-width="2.5" stroke-linecap="butt"/>
<text x="307.60" y="738.20" font-size="17" text-anchor="middle" >1</text>
<line stroke="#000000" x1="342.90" y1="713.80" x2="342.90" y2="720.00" stroke-width="2.5" stroke-linecap="butt"/>
<text x="342.90" y="738.20" font-size="17" text-anchor="middle" >2</text>
<line stroke="#000000" x1="378.20" y1="713.80" x2="378.20" y2="720.00" stroke-width="2.5" stroke-linecap="butt"/>
<text x="378.20" y="738.20" font-size="17" text-anchor="middle" >3</text>
<line stroke="#000000" x1="413.50" y1="713.80" x2="413.50" y2="720.00" stroke-width="2.5" stroke-linecap="butt"/>
<text x="413.50" y="738.20" font-size="17" text-anchor="middle" >4</text>
<line stroke="#000000" x1="448.80" y1="713.80" x2="448.80" y2="720.00" stroke-width="2.5" stroke-linecap="butt"/>
<text x="448.80" y="738.20" font-size="17" text-anchor="middle" >5</text>
<line stroke="#000000" x1="484.10" y1="713.80" x2="484.10" y2="720.00" stroke-width="2.5" stroke-linecap="butt"/>
<text x="484.10" y="738.20" font-size="17" text-anchor="middle" >6</text>
<text x="379.60" y="759.60" font-size="17" text-anchor="middle" >Division</text>
<text transform="translate(219.20,634.40) rotate(-90)" font-size="17.2" text-anchor="middle" >% FH per Division</text>
<line stroke="#000000" x1="272.30" y1="572.00" x2="272.30" y2="667.50" stroke-width="1.8" stroke-linecap="butt"/>
<line stroke="#000000" x1="267.10" y1="572.00" x2="277.50" y2="572.00" stroke-width="1.8" stroke-linecap="butt"/>
<line stroke="#000000" x1="267.10" y1="667.50" x2="277.50" y2="667.50" stroke-width="1.8" stroke-linecap="butt"/>
<line stroke="#000000" x1="307.60" y1="661.25" x2="307.60" y2="692.80" stroke-width="1.8" stroke-linecap="butt"/>
<line stroke="#000000" x1="302.40" y1="661.25" x2="312.80" y2="661.25" stroke-width="1.8" stroke-linecap="butt"/>
<line stroke="#000000" x1="302.40" y1="692.80" x2="312.80" y2="692.80" stroke-width="1.8" stroke-linecap="butt"/>
<line stroke="#000000" x1="342.90" y1="666.25" x2="342.90" y2="690.50" stroke-width="1.8" stroke-linecap="butt"/>
<line stroke="#000000" x1="337.70" y1="666.25" x2="348.10" y2="666.25" stroke-width="1.8" stroke-linecap="butt"/>
<line stroke="#000000" x1="337.70" y1="690.50" x2="348.10" y2="690.50" stroke-width="1.8" stroke-linecap="butt"/>
<line stroke="#000000" x1="378.20" y1="672.00" x2="378.20" y2="687.00" stroke-width="1.8" stroke-linecap="butt"/>
<line stroke="#000000" x1="373.00" y1="672.00" x2="383.40" y2="672.00" stroke-width="1.8" stroke-linecap="butt"/>
<line stroke="#000000" x1="373.00" y1="687.00" x2="383.40" y2="687.00" stroke-width="1.8" stroke-linecap="butt"/>
<line stroke="#000000" x1="413.50" y1="664.50" x2="413.50" y2="683.00" stroke-width="1.8" stroke-linecap="butt"/>
<line stroke="#000000" x1="408.30" y1="664.50" x2="418.70" y2="664.50" stroke-width="1.8" stroke-linecap="butt"/>
<line stroke="#000000" x1="408.30" y1="683.00" x2="418.70" y2="683.00" stroke-width="1.8" stroke-linecap="butt"/>
<line stroke="#000000" x1="448.80" y1="662.00" x2="448.80" y2="685.50" stroke-width="1.8" stroke-linecap="butt"/>
<line stroke="#000000" x1="443.60" y1="662.00" x2="454.00" y2="662.00" stroke-width="1.8" stroke-linecap="butt"/>
<line stroke="#000000" x1="443.60" y1="685.50" x2="454.00" y2="685.50" stroke-width="1.8" stroke-linecap="butt"/>
<line stroke="#000000" x1="484.10" y1="659.00" x2="484.10" y2="688.00" stroke-width="1.8" stroke-linecap="butt"/>
<line stroke="#000000" x1="478.90" y1="659.00" x2="489.30" y2="659.00" stroke-width="1.8" stroke-linecap="butt"/>
<line stroke="#000000" x1="478.90" y1="688.00" x2="489.30" y2="688.00" stroke-width="1.8" stroke-linecap="butt"/>
<polyline stroke="#000000" points="272.30,620.00 307.60,676.00 342.90,678.75 378.20,680.00 413.50,672.00 448.80,673.25 484.10,673.25" fill="none" stroke-width="2.8" stroke-linejoin="round"/>
<circle cx="272.30" cy="620.00" r="4.5"/>
<circle cx="307.60" cy="676.00" r="4.5"/>
<circle cx="342.90" cy="678.75" r="4.5"/>
<circle cx="378.20" cy="680.00" r="4.5"/>
<circle cx="413.50" cy="672.00" r="4.5"/>
<circle cx="448.80" cy="673.25" r="4.5"/>
<circle cx="484.10" cy="673.25" r="4.5"/>
<line stroke="#000000" x1="272.30" y1="588.75" x2="272.30" y2="637.00" stroke-width="1.8" stroke-linecap="butt"/>
<line stroke="#000000" x1="267.10" y1="588.75" x2="277.50" y2="588.75" stroke-width="1.8" stroke-linecap="butt"/>
<line stroke="#000000" x1="267.10" y1="637.00" x2="277.50" y2="637.00" stroke-width="1.8" stroke-linecap="butt"/>
<line stroke="#000000" x1="307.60" y1="665.80" x2="307.60" y2="680.80" stroke-width="1.8" stroke-linecap="butt"/>
<line stroke="#000000" x1="302.40" y1="665.80" x2="312.80" y2="665.80" stroke-width="1.8" stroke-linecap="butt"/>
<line stroke="#000000" x1="302.40" y1="680.80" x2="312.80" y2="680.80" stroke-width="1.8" stroke-linecap="butt"/>
<line stroke="#000000" x1="342.90" y1="680.00" x2="342.90" y2="688.75" stroke-width="1.8" stroke-linecap="butt"/>
<line stroke="#000000" x1="337.70" y1="680.00" x2="348.10" y2="680.00" stroke-width="1.8" stroke-linecap="butt"/>
<line stroke="#000000" x1="337.70" y1="688.75" x2="348.10" y2="688.75" stroke-width="1.8" stroke-linecap="butt"/>
<line stroke="#000000" x1="378.20" y1="670.00" x2="378.20" y2="689.00" stroke-width="1.8" stroke-linecap="butt"/>
<line stroke="#000000" x1="373.00" y1="670.00" x2="383.40" y2="670.00" stroke-width="1.8" stroke-linecap="butt"/>
<line stroke="#000000" x1="373.00" y1="689.00" x2="383.40" y2="689.00" stroke-width="1.8" stroke-linecap="butt"/>
<line stroke="#000000" x1="413.50" y1="650.00" x2="413.50" y2="664.00" stroke-width="1.8" stroke-linecap="butt"/>
<line stroke="#000000" x1="408.30" y1="650.00" x2="418.70" y2="650.00" stroke-width="1.8" stroke-linecap="butt"/>
<line stroke="#000000" x1="408.30" y1="664.00" x2="418.70" y2="664.00" stroke-width="1.8" stroke-linecap="butt"/>
<line stroke="#000000" x1="448.80" y1="655.00" x2="448.80" y2="674.00" stroke-width="1.8" stroke-linecap="butt"/>
<line stroke="#000000" x1="443.60" y1="655.00" x2="454.00" y2="655.00" stroke-width="1.8" stroke-linecap="butt"/>
<line stroke="#000000" x1="443.60" y1="674.00" x2="454.00" y2="674.00" stroke-width="1.8" stroke-linecap="butt"/>
<line stroke="#000000" x1="484.10" y1="650.50" x2="484.10" y2="672.00" stroke-width="1.8" stroke-linecap="butt"/>
<line stroke="#000000" x1="478.90" y1="650.50" x2="489.30" y2="650.50" stroke-width="1.8" stroke-linecap="butt"/>
<line stroke="#000000" x1="478.90" y1="672.00" x2="489.30" y2="672.00" stroke-width="1.8" stroke-linecap="butt"/>
<polyline stroke="#000000" points="272.30,614.50 307.60,675.00 342.90,684.50 378.20,680.00 413.50,657.00 448.80,664.50 484.10,661.25" fill="none" stroke-width="2.8" stroke-linejoin="round"/>
<rect x="267.80" y="610.00" width="9.0" height="9.0"/>
<rect x="303.10" y="670.50" width="9.0" height="9.0"/>
<rect x="338.40" y="680.00" width="9.0" height="9.0"/>
<rect x="373.70" y="675.50" width="9.0" height="9.0"/>
<rect x="409.00" y="652.50" width="9.0" height="9.0"/>
<rect x="444.30" y="660.00" width="9.0" height="9.0"/>
<rect x="479.60" y="656.75" width="9.0" height="9.0"/>
<line stroke="#000000" x1="287.90" y1="567.30" x2="309.20" y2="567.30" stroke-width="2.5" stroke-linecap="butt"/>
<circle cx="298.55" cy="567.30" r="4.5"/>
<text x="315.60" y="569.60" font-size="17" text-anchor="start" letter-spacing="0.1">Tyrosinase<tspan font-size="10" dy="-7" dx="0.5">+</tspan></text>
<line stroke="#000000" x1="287.90" y1="585.90" x2="309.20" y2="585.90" stroke-width="2.5" stroke-linecap="butt"/>
<rect x="294.05" y="581.40" width="9.0" height="9.0"/>
<text x="315.60" y="591.20" font-size="17" text-anchor="start" letter-spacing="0.1">Tyrosinase<tspan font-size="10" dy="-7" dx="0.5">+</tspan><tspan dy="7" dx="0.3">+ anti-CD25</tspan></text>
<text x="3.40" y="824.60" font-size="30" text-anchor="start" font-weight="bold">D</text>
<line stroke="#000000" x1="75.00" y1="814.90" x2="75.00" y2="1015.35" stroke-width="1.9" stroke-linecap="butt"/>
<line stroke="#000000" x1="74.05" y1="1014.40" x2="269.60" y2="1014.40" stroke-width="1.9" stroke-linecap="butt"/>
<line stroke="#000000" x1="69.80" y1="1014.40" x2="75.00" y2="1014.40" stroke-width="1.9" stroke-linecap="butt"/>
<text x="66.00" y="1020.90" font-size="17" text-anchor="end" >0</text>
<line stroke="#000000" x1="69.80" y1="948.20" x2="75.00" y2="948.20" stroke-width="1.9" stroke-linecap="butt"/>
<text x="66.00" y="954.70" font-size="17" text-anchor="end" >5</text>
<line stroke="#000000" x1="69.80" y1="882.00" x2="75.00" y2="882.00" stroke-width="1.9" stroke-linecap="butt"/>
<text x="66.00" y="888.50" font-size="17" text-anchor="end" >10</text>
<line stroke="#000000" x1="69.80" y1="815.80" x2="75.00" y2="815.80" stroke-width="1.9" stroke-linecap="butt"/>
<text x="66.00" y="822.30" font-size="17" text-anchor="end" >15</text>
<rect x="90.00" y="884.60" width="67.70" height="129.80"/>
<line stroke="#000000" x1="123.85" y1="850.50" x2="123.85" y2="885.60" stroke-width="1.7" stroke-linecap="butt"/>
<line stroke="#000000" x1="107.15" y1="850.50" x2="140.55" y2="850.50" stroke-width="1.7" stroke-linecap="butt"/>
<rect x="188.00" y="1005.20" width="67.40" height="9.20"/>
<line stroke="#000000" x1="221.70" y1="1004.60" x2="221.70" y2="1006.20" stroke-width="1.0" stroke-linecap="butt"/>
<line stroke="#000000" x1="205.00" y1="1004.60" x2="238.40" y2="1004.60" stroke-width="1.0" stroke-linecap="butt"/>
<line stroke="#000000" x1="123.80" y1="1014.40" x2="123.80" y2="1021.50" stroke-width="1.9" stroke-linecap="butt"/>
<line stroke="#000000" x1="221.60" y1="1014.40" x2="221.60" y2="1021.50" stroke-width="1.9" stroke-linecap="butt"/>
<text x="222.00" y="996.31" font-size="17" text-anchor="middle" letter-spacing="0">*</text>
<text transform="translate(27.80,915.40) rotate(-90)" font-size="17.3" text-anchor="middle" >FH (% of Total CD8)</text>
<text transform="translate(135.80,1035.50) rotate(-45)" font-size="17.3" text-anchor="end" >PD-L1<tspan font-size="10" dy="-6.5" dx="0.2">-/-</tspan><tspan dy="6.5" dx="0">Tyrosinase</tspan><tspan font-size="10" dy="-7" dx="2.2">+</tspan></text>
<text transform="translate(233.30,1036.60) rotate(-45)" font-size="17.3" text-anchor="end" >PD-L1<tspan font-size="10" dy="-6.5" dx="0.2">-/-</tspan><tspan dy="6.5" dx="0">Tyrosinase</tspan><tspan font-size="10" dy="-7" dx="2.2">+</tspan></text>
<text transform="translate(245.40,1051.40) rotate(-45)" font-size="17.3" text-anchor="end" >anti-CD25</text>
<line stroke="#000000" x1="302.50" y1="817.60" x2="302.50" y2="1017.00" stroke-width="2.5" stroke-linecap="butt"/>
<line stroke="#000000" x1="301.25" y1="1015.70" x2="500.40" y2="1015.70" stroke-width="2.7" stroke-linecap="butt"/>
<text x="292.60" y="1021.30" font-size="17" text-anchor="end" >0</text>
<line stroke="#000000" x1="296.80" y1="987.14" x2="302.50" y2="987.14" stroke-width="2.2" stroke-linecap="butt"/>
<text x="292.60" y="993.24" font-size="17" text-anchor="end" >10</text>
<line stroke="#000000" x1="296.80" y1="959.08" x2="302.50" y2="959.08" stroke-width="2.2" stroke-linecap="butt"/>
<text x="292.60" y="965.18" font-size="17" text-anchor="end" >20</text>
<line stroke="#000000" x1="296.80" y1="931.02" x2="302.50" y2="931.02" stroke-width="2.2" stroke-linecap="butt"/>
<text x="292.60" y="937.12" font-size="17" text-anchor="end" >30</text>
<line stroke="#000000" x1="296.80" y1="902.96" x2="302.50" y2="902.96" stroke-width="2.2" stroke-linecap="butt"/>
<text x="292.60" y="909.06" font-size="17" text-anchor="end" >40</text>
<line stroke="#000000" x1="296.80" y1="874.90" x2="302.50" y2="874.90" stroke-width="2.2" stroke-linecap="butt"/>
<text x="292.60" y="881.00" font-size="17" text-anchor="end" >50</text>
<line stroke="#000000" x1="296.80" y1="846.84" x2="302.50" y2="846.84" stroke-width="2.2" stroke-linecap="butt"/>
<text x="292.60" y="852.94" font-size="17" text-anchor="end" >60</text>
<line stroke="#000000" x1="296.80" y1="818.78" x2="302.50" y2="818.78" stroke-width="2.2" stroke-linecap="butt"/>
<text x="292.60" y="824.88" font-size="17" text-anchor="end" >70</text>
<line stroke="#000000" x1="296.80" y1="1015.70" x2="302.50" y2="1015.70" stroke-width="2.7" stroke-linecap="butt"/>
<rect x="318.00" y="878.30" width="67.90" height="137.40"/>
<line stroke="#000000" x1="351.95" y1="845.60" x2="351.95" y2="879.30" stroke-width="1.8" stroke-linecap="butt"/>
<line stroke="#000000" x1="335.15" y1="845.60" x2="368.75" y2="845.60" stroke-width="1.8" stroke-linecap="butt"/>
<rect x="417.20" y="976.40" width="67.80" height="39.30"/>
<line stroke="#000000" x1="451.10" y1="943.60" x2="451.10" y2="977.40" stroke-width="1.8" stroke-linecap="butt"/>
<line stroke="#000000" x1="434.40" y1="943.60" x2="467.80" y2="943.60" stroke-width="1.8" stroke-linecap="butt"/>
<line stroke="#000000" x1="352.00" y1="1015.70" x2="352.00" y2="1022.00" stroke-width="2.3" stroke-linecap="butt"/>
<line stroke="#000000" x1="451.40" y1="1015.70" x2="451.40" y2="1022.00" stroke-width="2.3" stroke-linecap="butt"/>
<text transform="translate(363.00,1034.50) rotate(-45)" font-size="17.35" text-anchor="end" >anti-4-1BB+-OX40</text>
<text transform="translate(461.20,1034.50) rotate(-45)" font-size="17.35" text-anchor="end" >anti-4-1BB+-OX40</text>
<text transform="translate(474.90,1049.80) rotate(-45)" font-size="17.3" text-anchor="end" >anti-CD25</text>
</g>
<g stroke="none" filter="url(#soft2)">
<path d="M170.75 140.90L170.25 146.10M172.75 140.90L172.25 146.10M169.20 142.50L174.00 142.50M169.00 144.50L173.80 144.50" fill="none" stroke="#000000" stroke-width="0.85"/>
<path d="M200.75 183.90L200.25 189.10M202.75 183.90L202.25 189.10M199.20 185.50L204.00 185.50M199.00 187.50L203.80 187.50" fill="none" stroke="#000000" stroke-width="0.85"/>
<path d="M207.75 183.90L207.25 189.10M209.75 183.90L209.25 189.10M206.20 185.50L211.00 185.50M206.00 187.50L210.80 187.50" fill="none" stroke="#000000" stroke-width="0.85"/>
<path d="M233.75 171.90L233.25 177.10M235.75 171.90L235.25 177.10M232.20 173.50L237.00 173.50M232.00 175.50L236.80 175.50" fill="none" stroke="#000000" stroke-width="0.85"/>
<path d="M241.75 171.90L241.25 177.10M243.75 171.90L243.25 177.10M240.20 173.50L245.00 173.50M240.00 175.50L244.80 175.50" fill="none" stroke="#000000" stroke-width="0.85"/>
<path d="M264.75 163.90L264.25 169.10M266.75 163.90L266.25 169.10M263.20 165.50L268.00 165.50M263.00 167.50L267.80 167.50" fill="none" stroke="#000000" stroke-width="0.85"/>
<path d="M272.75 163.90L272.25 169.10M274.75 163.90L274.25 169.10M271.20 165.50L276.00 165.50M271.00 167.50L275.80 167.50" fill="none" stroke="#000000" stroke-width="0.85"/>
<path d="M280.75 163.90L280.25 169.10M282.75 163.90L282.25 169.10M279.20 165.50L284.00 165.50M279.00 167.50L283.80 167.50" fill="none" stroke="#000000" stroke-width="0.85"/>
<path d="M297.75 149.90L297.25 155.10M299.75 149.90L299.25 155.10M296.20 151.50L301.00 151.50M296.00 153.50L300.80 153.50" fill="none" stroke="#000000" stroke-width="0.85"/>
<path d="M305.75 149.90L305.25 155.10M307.75 149.90L307.25 155.10M304.20 151.50L309.00 151.50M304.00 153.50L308.80 153.50" fill="none" stroke="#000000" stroke-width="0.85"/>
<path d="M312.75 149.90L312.25 155.10M314.75 149.90L314.25 155.10M311.20 151.50L316.00 151.50M311.00 153.50L315.80 153.50" fill="none" stroke="#000000" stroke-width="0.85"/>
<path d="M320.50 362.20L320.00 368.80M323.00 362.20L322.50 368.80M318.90 364.25L324.30 364.25M318.70 366.75L324.10 366.75" fill="none" stroke="#000000" stroke-width="1.0"/>
<path d="M326.50 362.20L326.00 368.80M329.00 362.20L328.50 368.80M324.90 364.25L330.30 364.25M324.70 366.75L330.10 366.75" fill="none" stroke="#000000" stroke-width="1.0"/>
</g>
</svg>
</body>
</html>
